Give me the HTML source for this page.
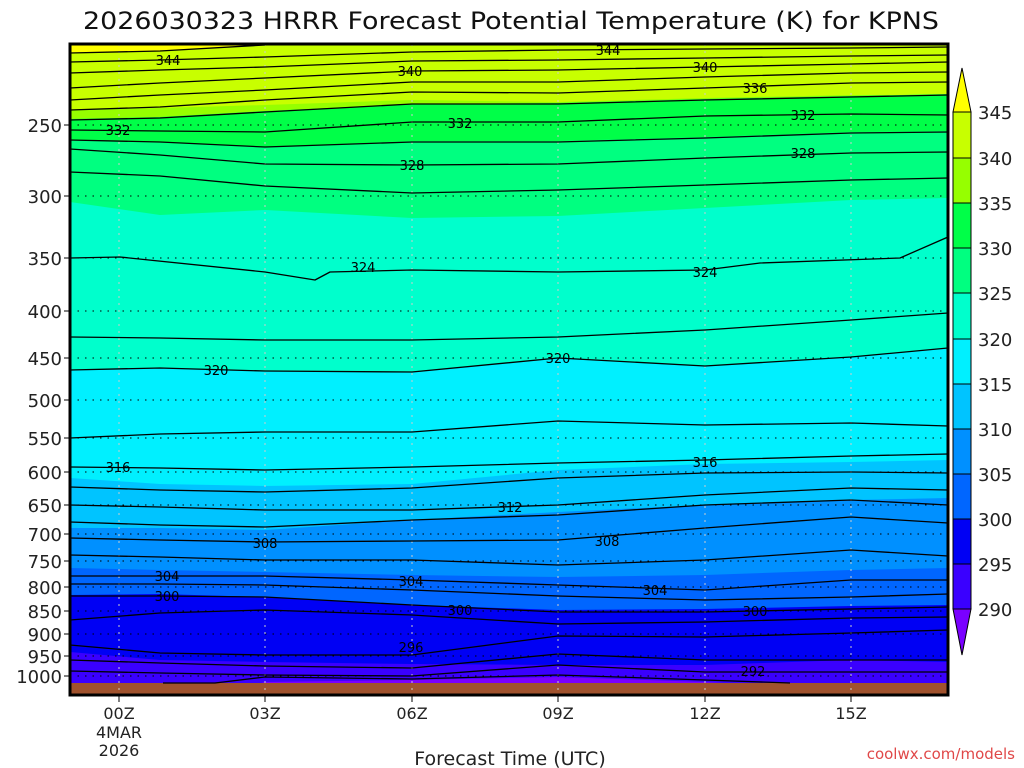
<!DOCTYPE html>
<html><head><meta charset="utf-8"><style>
html,body{margin:0;padding:0;background:#fff;}
svg{display:block;font-family:"DejaVu Sans","Liberation Sans",sans-serif;}
</style></head><body>
<svg width="1024" height="768" viewBox="0 0 1024 768" xmlns="http://www.w3.org/2000/svg">
<rect width="1024" height="768" fill="#fff"/>
<text x="511" y="29" font-size="24" text-anchor="middle" textLength="856" lengthAdjust="spacingAndGlyphs" fill="#111">2026030323 HRRR Forecast Potential Temperature (K) for KPNS</text>
<clipPath id="c"><rect x="70" y="44" width="878" height="651"/></clipPath>
<g clip-path="url(#c)">
<rect x="70" y="40" width="880" height="660" fill="#ffff00"/>
<polygon fill="#c8ff00" points="70,53 160,51 265,45 412,43 558,43 705,43 851,43 948,43 948,695 70,695"/>
<polygon fill="#96ff00" points="70,110 160,108 265,105 412,100 558,102 705,98 851,95 948,95 948,695 70,695"/>
<polygon fill="#00ff48" points="70,119 160,117 265,111 412,104 558,103 705,99 851,96 948,94 948,695 70,695"/>
<polygon fill="#00ff80" points="70,140 160,142 265,147 412,141 558,141 705,137 851,132 948,131 948,695 70,695"/>
<polygon fill="#00ffcc" points="70,202 160,215 265,210 412,218 558,216 705,208 851,200 948,198 948,695 70,695"/>
<polygon fill="#00f0ff" points="70,370 160,368 265,371 412,372 558,358 705,366 851,357 948,348 948,695 70,695"/>
<polygon fill="#00c4ff" points="70,478 160,484 265,486 412,484 558,470 705,464 851,462 948,460 948,695 70,695"/>
<polygon fill="#0090ff" points="70,528 160,528 265,530 412,520 558,512 705,505 851,500 948,498 948,695 70,695"/>
<polygon fill="#0066ff" points="70,568 160,570 265,572 412,575 558,577 705,575 851,570 948,568 948,695 70,695"/>
<polygon fill="#0000f4" points="70,595 160,594 265,597 412,605 558,610 705,609 851,606 948,605 948,695 70,695"/>
<polygon fill="#3a00ff" points="70,652 160,660 265,662 412,664 558,665 705,665 851,660 948,662 948,695 70,695"/>
<polygon fill="#7a00ff" points="70,700 200,700 265,682 412,680 558,677 705,682 851,690 948,695 948,700 70,700"/>
<rect x="70" y="683" width="878" height="12" fill="#a0522d"/>
<g stroke="#000" stroke-width="1" stroke-dasharray="1.5,6" fill="none">
<line x1="70" y1="125" x2="948" y2="125"/><line x1="70" y1="196" x2="948" y2="196"/>
<line x1="70" y1="258" x2="948" y2="258"/><line x1="70" y1="311" x2="948" y2="311"/>
<line x1="70" y1="358" x2="948" y2="358"/><line x1="70" y1="400" x2="948" y2="400"/>
<line x1="70" y1="438" x2="948" y2="438"/><line x1="70" y1="472" x2="948" y2="472"/>
<line x1="70" y1="505" x2="948" y2="505"/><line x1="70" y1="534" x2="948" y2="534"/>
<line x1="70" y1="561" x2="948" y2="561"/><line x1="70" y1="587" x2="948" y2="587"/>
<line x1="70" y1="611" x2="948" y2="611"/><line x1="70" y1="634" x2="948" y2="634"/>
<line x1="70" y1="656" x2="948" y2="656"/><line x1="70" y1="676" x2="948" y2="676"/>
</g>
<g stroke="#ccc" stroke-width="1" stroke-dasharray="2,5">
<line x1="119" y1="44" x2="119" y2="695"/><line x1="265" y1="44" x2="265" y2="695"/>
<line x1="412" y1="44" x2="412" y2="695"/><line x1="558" y1="44" x2="558" y2="695"/>
<line x1="705" y1="44" x2="705" y2="695"/><line x1="851" y1="44" x2="851" y2="695"/>
</g>
<g stroke="#000" stroke-width="1.3" fill="none" stroke-linejoin="round">
<polyline points="70,53 160,51 265,45"/>
<polyline points="70,62 160,60 265,57 412,52 558,50 705,49 851,48 948,47"/>
<polyline points="70,73 160,70 265,67 412,61 558,60 705,58 851,56 948,55"/>
<polyline points="70,88 160,83 265,78 412,71 558,70 705,67 851,64 948,62"/>
<polyline points="70,100 160,95 265,90 412,82 558,82 705,77 851,73 948,72"/>
<polyline points="70,110 160,107 265,100 412,92 558,93 705,88 851,83 948,82"/>
<polyline points="70,120 160,118 265,112 412,104 558,104 705,100 851,97 948,95"/>
<polyline points="70,130 160,131 265,132 412,122 558,122 705,116 851,114 948,115"/>
<polyline points="70,140 160,142 265,147 412,142 558,142 705,138 851,133 948,132"/>
<polyline points="70,149 160,155 265,164 412,165 558,164 705,158 851,153 948,152"/>
<polyline points="70,172 160,176 265,186 412,193 558,190 705,185 851,180 948,178"/>
<polyline points="70,258 120,257 265,272 315,280 330,272 412,270 558,272 705,270 760,263 900,258 948,237"/>
<polyline points="70,337 160,338 265,340 412,340 558,337 705,330 851,320 948,313"/>
<polyline points="70,370 160,368 265,371 412,372 558,358 705,366 851,357 948,348"/>
<polyline points="70,438 160,434 265,432 412,432 558,421 705,425 851,423 948,426"/>
<polyline points="70,467 160,468 265,470 412,467 558,463 705,460 851,456 948,454"/>
<polyline points="70,487 160,490 265,492 412,488 558,478 705,473 851,472 948,473"/>
<polyline points="70,505 160,507 265,510 412,510 558,505 705,495 851,488 948,490"/>
<polyline points="70,522 160,525 265,527 412,520 558,515 705,505 851,500 948,505"/>
<polyline points="70,538 160,540 265,542 412,541 558,540 705,528 851,517 948,523"/>
<polyline points="70,555 160,557 265,560 412,560 558,565 705,560 851,550 948,556"/>
<polyline points="70,576 160,576 265,576 412,580 558,585 705,590 851,580 948,580"/>
<polyline points="70,584 160,584 265,585 412,590 558,596 705,600 851,597 948,594"/>
<polyline points="70,596 160,596 265,597 412,605 558,612 705,612 851,609 948,607"/>
<polyline points="70,620 160,613 265,610 412,615 558,624 705,622 851,618 948,617"/>
<polyline points="70,645 160,653 265,655 412,655 558,636 705,637 851,633 948,630"/>
<polyline points="70,660 160,663 265,666 412,668 558,654 705,660 851,660 948,660"/>
<polyline points="70,671 160,673 265,675 412,676 558,665 705,672 851,672 948,672"/>
<polyline points="163,683 215,683 265,677 412,679 558,675 705,680 790,683"/>
</g>
<g font-size="13" text-anchor="middle" fill="#000">
<text x="168" y="65">344</text><text x="608" y="55">344</text>
<text x="410" y="76">340</text><text x="705" y="72">340</text>
<text x="755" y="93">336</text>
<text x="118" y="135">332</text><text x="460" y="128">332</text><text x="803" y="120">332</text>
<text x="412" y="170">328</text><text x="803" y="158">328</text>
<text x="363" y="272">324</text><text x="705" y="277">324</text>
<text x="216" y="375">320</text><text x="558" y="363">320</text>
<text x="118" y="472">316</text><text x="705" y="467">316</text>
<text x="510" y="512">312</text>
<text x="265" y="548">308</text><text x="607" y="546">308</text>
<text x="167" y="581">304</text><text x="411" y="586">304</text><text x="655" y="595">304</text>
<text x="167" y="601">300</text><text x="460" y="615">300</text><text x="755" y="616">300</text>
<text x="411" y="652">296</text>
<text x="753" y="676">292</text>
</g>
</g>
<rect x="70" y="44" width="878" height="651" fill="none" stroke="#000" stroke-width="3"/>
<g stroke="#000" stroke-width="1">
<line x1="64" y1="125" x2="70" y2="125"/><line x1="64" y1="196" x2="70" y2="196"/><line x1="64" y1="258" x2="70" y2="258"/>
<line x1="64" y1="311" x2="70" y2="311"/><line x1="64" y1="358" x2="70" y2="358"/><line x1="64" y1="400" x2="70" y2="400"/>
<line x1="64" y1="438" x2="70" y2="438"/><line x1="64" y1="472" x2="70" y2="472"/><line x1="64" y1="505" x2="70" y2="505"/>
<line x1="64" y1="534" x2="70" y2="534"/><line x1="64" y1="561" x2="70" y2="561"/><line x1="64" y1="587" x2="70" y2="587"/>
<line x1="64" y1="611" x2="70" y2="611"/><line x1="64" y1="634" x2="70" y2="634"/><line x1="64" y1="656" x2="70" y2="656"/>
<line x1="64" y1="676" x2="70" y2="676"/>
<line x1="119" y1="695" x2="119" y2="702"/><line x1="265" y1="695" x2="265" y2="702"/><line x1="412" y1="695" x2="412" y2="702"/>
<line x1="558" y1="695" x2="558" y2="702"/><line x1="705" y1="695" x2="705" y2="702"/><line x1="851" y1="695" x2="851" y2="702"/>
</g>
<g font-size="18" text-anchor="end" fill="#222">
<text x="62" y="132">250</text><text x="62" y="203">300</text><text x="62" y="265">350</text><text x="62" y="318">400</text>
<text x="62" y="365">450</text><text x="62" y="407">500</text><text x="62" y="445">550</text><text x="62" y="479">600</text>
<text x="62" y="512">650</text><text x="62" y="541">700</text><text x="62" y="568">750</text><text x="62" y="594">800</text>
<text x="62" y="618">850</text><text x="62" y="641">900</text><text x="62" y="663">950</text><text x="62" y="683">1000</text>
</g>
<g font-size="16" text-anchor="middle" fill="#222">
<text x="119" y="719">00Z</text><text x="119" y="738">4MAR</text><text x="119" y="756">2026</text>
<text x="265" y="719">03Z</text><text x="412" y="719">06Z</text><text x="558" y="719">09Z</text>
<text x="705" y="719">12Z</text><text x="851" y="719">15Z</text>
</g>
<text x="510" y="765" font-size="19" text-anchor="middle" fill="#222">Forecast Time (UTC)</text>
<text x="1015" y="759" font-size="15" text-anchor="end" fill="#e04848">coolwx.com/models</text>
<g stroke="#000" stroke-width="1">
<polygon points="962,68 953,112 971,112" fill="#ffff00"/>
<rect x="953" y="112" width="18" height="46" fill="#c8ff00"/>
<rect x="953" y="158" width="18" height="45" fill="#96ff00"/>
<rect x="953" y="203" width="18" height="45" fill="#00ff48"/>
<rect x="953" y="248" width="18" height="45" fill="#00ff80"/>
<rect x="953" y="293" width="18" height="46" fill="#00ffcc"/>
<rect x="953" y="339" width="18" height="45" fill="#00f0ff"/>
<rect x="953" y="384" width="18" height="45" fill="#00c4ff"/>
<rect x="953" y="429" width="18" height="45" fill="#0090ff"/>
<rect x="953" y="474" width="18" height="45" fill="#0066ff"/>
<rect x="953" y="519" width="18" height="45" fill="#0000f4"/>
<rect x="953" y="564" width="18" height="45" fill="#3a00ff"/>
<polygon points="953,609 971,609 962,655" fill="#7a00ff"/>
</g>
<g font-size="18" fill="#222">
<text x="978" y="119">345</text><text x="978" y="165">340</text><text x="978" y="210">335</text><text x="978" y="255">330</text>
<text x="978" y="300">325</text><text x="978" y="346">320</text><text x="978" y="391">315</text><text x="978" y="436">310</text>
<text x="978" y="481">305</text><text x="978" y="526">300</text><text x="978" y="571">295</text><text x="978" y="616">290</text>
</g>
</svg>
</body></html>
